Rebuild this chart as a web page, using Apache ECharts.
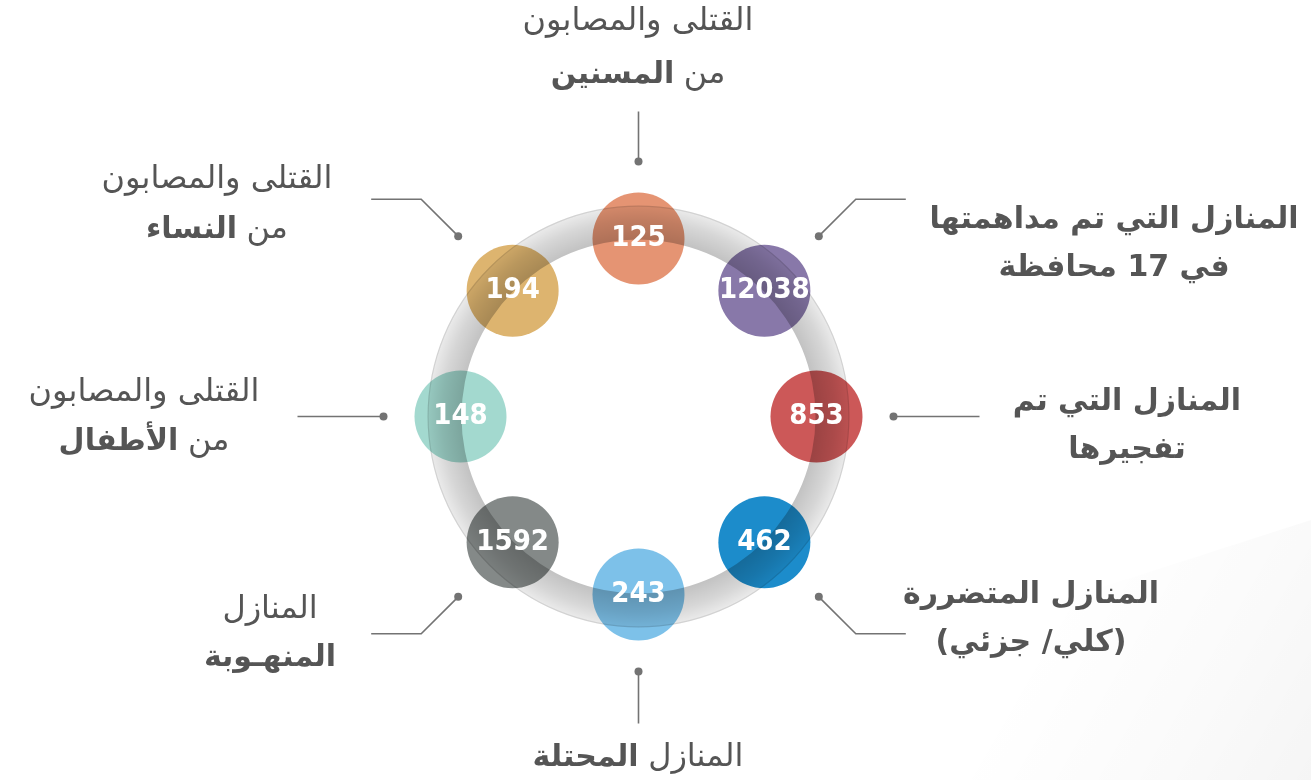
<!DOCTYPE html>
<html>
<head>
<meta charset="utf-8">
<title>ring infographic</title>
<script src="https://cdn.jsdelivr.net/npm/echarts@6/dist/echarts.min.js"></script>
<style>
  html, body { margin: 0; padding: 0; background: #fff; }
  #main { width: 1311px; height: 780px; }
</style>
</head>
<body>
<div id="main"></div>
<script>
// categories, clockwise from the top
const categories = ['المسنين', 'المداهمة', 'المفجرة', 'المتضررة', 'المحتلة', 'المنهوبة', 'الأطفال', 'النساء'];
const values = [125, 12038, 853, 462, 243, 1592, 148, 194];
// caption lines per category ({b|..} bold, {r|..} regular), visual left-to-right fragments
const captions = [
  ['{r|القتلى والمصابون}', '{b|المسنين} {r|من}'],
  ['{b|المنازل التي تم مداهمتها}', '{b|في 17 محافظة}'],
  ['{b|المنازل التي تم}', '{b|تفجيرها}'],
  ['{b|المنازل المتضررة}', '{b|(كلي/ جزئي)}'],
  ['{b|المحتلة} {r|المنازل}'],
  ['{r|المنازل}', '{b|المنهـوبة}'],
  ['{r|القتلى والمصابون}', '{b|الأطفال} {r|من}'],
  ['{r|القتلى والمصابون}', '{b|النساء} {r|من}']
];

const colors = ['#E59473', '#8878A9', '#CC5858', '#1C8CCB', '#7DC1E9', '#848988', '#A3D9CF', '#DDB46F'];
const cx = 638.5, cy = 416.5;
const ringIn = 177, ringOut = 211, dotR = 255;

// caption anchor (x, first line y, second line y)
const captionPos = [
  [638, 22, 75], [1114, 220, 268], [1127, 402, 450], [1031, 595, 643],
  [638, 758], [270, 610, 658], [144, 393, 442], [217, 180, 230]
];
// leader elbow: [dx, dy] to the bend, then horizontal run length
const leaderBend = [
  [0, -50, 0], [37, -37, 50], [86, 0, 0], [37, 37, 50],
  [0, 52, 0], [-37, 37, -50], [-86, 0, 0], [-37, -37, -50]
];

const textColor = '#555';
const arFont = '"DejaVu Sans", sans-serif';
const richStyle = {
  r: { fontSize: 32, fontFamily: arFont, fontWeight: 'normal', color: textColor },
  b: { fontSize: 30, fontFamily: arFont, fontWeight: 'bold', color: textColor }
};

let graphics = [];

// faint paper decoration, bottom right
graphics.push({
  type: 'polygon',
  shape: { points: [[860, 780], [1000, 620], [1311, 520], [1311, 780]] },
  style: {
    fill: {
      type: 'linear', x: 0, y: 0, x2: 1, y2: 1,
      colorStops: [
        { offset: 0.4, color: 'rgba(0,0,0,0)' },
        { offset: 0.75, color: 'rgba(0,0,0,0.02)' },
        { offset: 1, color: 'rgba(0,0,0,0.04)' }
      ]
    }
  },
  silent: true,
  z: -1
});

categories.forEach(function (name, i) {
  const a = (90 - 45 * i) * Math.PI / 180;
  const dx = cx + dotR * Math.cos(a);
  const dy = cy - dotR * Math.sin(a);
  const b = leaderBend[i];
  const pts = [[dx, dy], [dx + b[0], dy + b[1]]];
  if (b[2]) pts.push([dx + b[0] + b[2], dy + b[1]]);
  graphics.push({
    type: 'polyline',
    shape: { points: pts },
    style: { stroke: '#737373', lineWidth: 1.6, fill: null },
    silent: true
  });
  graphics.push({
    type: 'circle',
    shape: { cx: dx, cy: dy, r: 4 },
    style: { fill: '#737373' },
    silent: true
  });
  const pos = captionPos[i];
  captions[i].forEach(function (line, k) {
    graphics.push({
      type: 'text',
      x: pos[0],
      y: pos[k + 1],
      silent: true,
      style: {
        text: line,
        align: 'center',
        verticalAlign: 'middle',
        fontSize: 30,
        fontFamily: arFont,
        fill: textColor,
        rich: richStyle
      }
    });
  });
});

const pointData = values.map(function (v, i) {
  return { value: [1, categories[i]], itemStyle: { color: colors[i], opacity: 1 } };
});

const option = {
  animation: false,
  backgroundColor: '#fff',
  polar: { center: [cx, cy], radius: ringIn + 1 },
  angleAxis: {
    type: 'category',
    data: categories,
    startAngle: 90,
    clockwise: true,
    boundaryGap: false,
    axisLine: { show: false },
    axisTick: { show: false },
    axisLabel: { show: false },
    splitLine: { show: false }
  },
  radiusAxis: {
    type: 'value',
    min: 0,
    max: 1,
    axisLine: { show: false },
    axisTick: { show: false },
    axisLabel: { show: false },
    splitLine: { show: false }
  },
  graphic: graphics,
  series: [
    {
      type: 'scatter',
      coordinateSystem: 'polar',
      symbol: 'circle',
      symbolSize: 92,
      z: 2,
      silent: true,
      itemStyle: { opacity: 1 },
      data: pointData
    },
    {
      // ring, drawn over the circles like a multiply layer
      type: 'pie',
      center: [cx, cy],
      radius: [ringIn, ringOut],
      z: 3,
      silent: true,
      label: { show: false },
      labelLine: { show: false },
      itemStyle: {
        color: {
          type: 'radial', x: cx, y: cy, r: ringOut, global: true,
          colorStops: [
            { offset: 0, color: 'rgba(0,0,0,0.24)' },
            { offset: ringIn / ringOut, color: 'rgba(0,0,0,0.24)' },
            { offset: 0.93, color: 'rgba(0,0,0,0.16)' },
            { offset: 1, color: 'rgba(0,0,0,0.08)' }
          ]
        }
      },
      data: [{ value: 1, name: 'ring' }]
    },
    {
      type: 'pie',
      center: [cx, cy],
      radius: [ringOut - 1.2, ringOut],
      z: 3,
      silent: true,
      label: { show: false },
      labelLine: { show: false },
      itemStyle: { color: 'rgba(0,0,0,0.1)' },
      data: [{ value: 1, name: 'edge' }]
    },
    {
      type: 'scatter',
      coordinateSystem: 'polar',
      symbol: 'circle',
      symbolSize: 92,
      z: 4,
      silent: true,
      itemStyle: { color: 'rgba(0,0,0,0)', opacity: 1 },
      label: {
        show: true,
        position: 'inside',
        formatter: function (p) { return values[p.dataIndex]; },
        color: '#fff',
        opacity: 1,
        fontSize: 29,
        fontWeight: 'bold',
        fontFamily: '"DejaVu Sans Condensed", "DejaVu Sans", sans-serif'
      },
      data: pointData.map(function (d) { return { value: d.value }; })
    }
  ]
};

const chart = echarts.init(document.getElementById('main'));
chart.setOption(option);
</script>
</body>
</html>
